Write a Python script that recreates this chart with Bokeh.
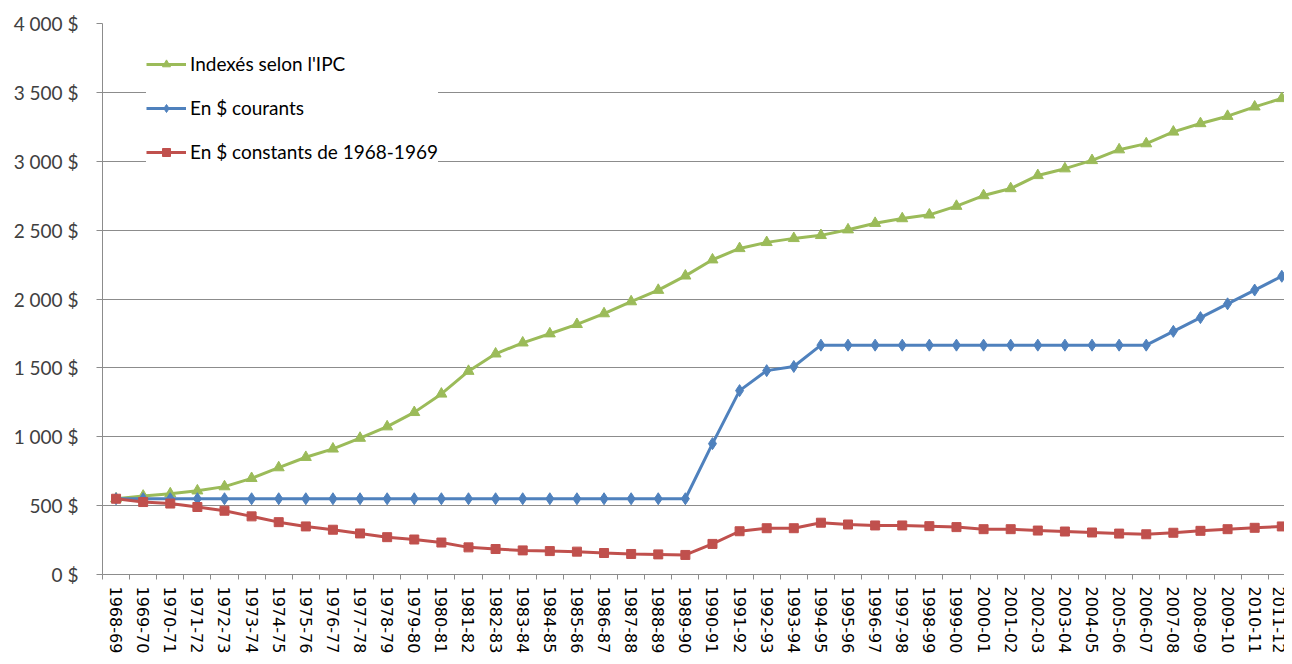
from bokeh.plotting import figure
from bokeh.models import Range1d, FixedTicker, Legend, LegendItem
from bokeh.embed import file_html
from bokeh.resources import INLINE

categories = ["1968-69", "1969-70", "1970-71", "1971-72", "1972-73", "1973-74", "1974-75",
              "1975-76", "1976-77", "1977-78", "1978-79", "1979-80", "1980-81", "1981-82",
              "1982-83", "1983-84", "1984-85", "1985-86", "1986-87", "1987-88", "1988-89",
              "1989-90", "1990-91", "1991-92", "1992-93", "1993-94", "1994-95", "1995-96",
              "1996-97", "1997-98", "1998-99", "1999-00", "2000-01", "2001-02", "2002-03",
              "2003-04", "2004-05", "2005-06", "2006-07", "2007-08", "2008-09", "2009-10",
              "2010-11", "2011-12"]

ipc = [550, 570, 587, 608, 638, 698, 776, 851, 912, 990, 1073, 1177, 1311, 1476,
       1602, 1682, 1748, 1816, 1894, 1981, 2064, 2168, 2285, 2367, 2411, 2440, 2462,
       2503, 2550, 2584, 2611, 2674, 2751, 2802, 2897, 2946, 3006, 3084, 3128, 3213,
       3274, 3327, 3395, 3456]

courants = [550] * 22 + [950, 1335, 1480, 1510] + [1665] * 13 + [1765, 1865, 1965, 2065, 2165]

constants = [550, 526, 515, 490, 463, 422, 380, 349, 325, 298, 271, 254, 232, 197,
             185, 175, 170, 166, 156, 149, 146, 142, 222, 314, 336, 336, 376, 363,
             356, 356, 351, 344, 329, 329, 319, 312, 305, 297, 292, 303, 317, 329,
             339, 349]

y_ticks = [0, 500, 1000, 1500, 2000, 2500, 3000, 3500, 4000]
y_tick_labels = ["0 $", "500 $", "1 000 $", "1 500 $", "2 000 $", "2 500 $", "3 000 $",
                 "3 500 $", "4 000 $"]

series_names = ["Indexés selon l'IPC", "En $ courants", "En $ constants de 1968-1969"]
colors = ["#9BBB59", "#4F81BD", "#C0504D"]

x = list(range(len(categories)))

p = figure(width=1284, height=656, output_backend="svg", toolbar_location=None,
           x_range=Range1d(-0.5, 43.1), y_range=Range1d(0, 4000),
           min_border_left=102, min_border_right=0, min_border_top=23, min_border_bottom=82)
p.outline_line_color = None
p.background_fill_color = "white"
p.border_fill_color = "white"

# grid
p.xgrid.visible = False
p.ygrid.grid_line_color = "#8C8C8C"
p.ygrid.grid_line_width = 1

# y axis
p.yaxis.ticker = FixedTicker(ticks=y_ticks, minor_ticks=[])
p.yaxis.major_label_overrides = {t: l for t, l in zip(y_ticks, y_tick_labels)}
p.yaxis.axis_line_color = "#8C8C8C"
p.yaxis.major_tick_line_color = "#8C8C8C"
p.yaxis.major_tick_out = 6
p.yaxis.major_tick_in = 0
p.yaxis.minor_tick_line_color = None
p.yaxis.major_label_standoff = 18
p.yaxis.major_label_text_font = "Lato"
p.yaxis.major_label_text_font_size = "19px"
p.yaxis.major_label_text_color = "#404040"

# x axis
p.xaxis.ticker = FixedTicker(ticks=x, minor_ticks=[i - 0.5 for i in range(len(categories) + 1)])
p.xaxis.major_label_overrides = {i: c for i, c in enumerate(categories)}
p.xaxis.axis_line_color = "#8C8C8C"
p.xaxis.major_tick_line_color = None
p.xaxis.major_tick_out = 0
p.xaxis.major_tick_in = 0
p.xaxis.minor_tick_line_color = "#8C8C8C"
p.xaxis.minor_tick_out = 5
p.xaxis.minor_tick_in = 0
p.xaxis.major_label_orientation = "vertical"
p.xaxis.major_label_standoff = 7
p.xaxis.major_label_text_font = "DejaVu Sans"
p.xaxis.major_label_text_font_size = "16px"
p.xaxis.major_label_text_color = "#000000"

l1 = p.line(x, ipc, line_color=colors[0], line_width=3)
m1 = p.scatter(x, ipc, marker="triangle", size=11, fill_color=colors[0], line_color=colors[0])
l2 = p.line(x, courants, line_color=colors[1], line_width=3)
m2 = p.scatter(x, courants, marker="diamond", size=12, fill_color=colors[1], line_color=colors[1])
l3 = p.line(x, constants, line_color=colors[2], line_width=3)
m3 = p.scatter(x, constants, marker="square", size=9, fill_color=colors[2], line_color=colors[2])

items = [LegendItem(label=series_names[0], renderers=[l1, m1]),
         LegendItem(label=series_names[1], renderers=[l2, m2]),
         LegendItem(label=series_names[2], renderers=[l3, m3])]

legend = Legend(items=items, location=(44, 411))
legend.glyph_width = 40
legend.glyph_height = 20
legend.label_height = 20
legend.spacing = 21
legend.padding = 14
legend.label_standoff = 4
legend.label_text_font = "Lato"
legend.label_text_font_size = "19px"
legend.label_text_color = "#000000"
legend.border_line_color = None
legend.background_fill_color = "white"
legend.background_fill_alpha = 1.0
p.add_layout(legend, "center")

open("out.html", "w").write(file_html(p, INLINE))
